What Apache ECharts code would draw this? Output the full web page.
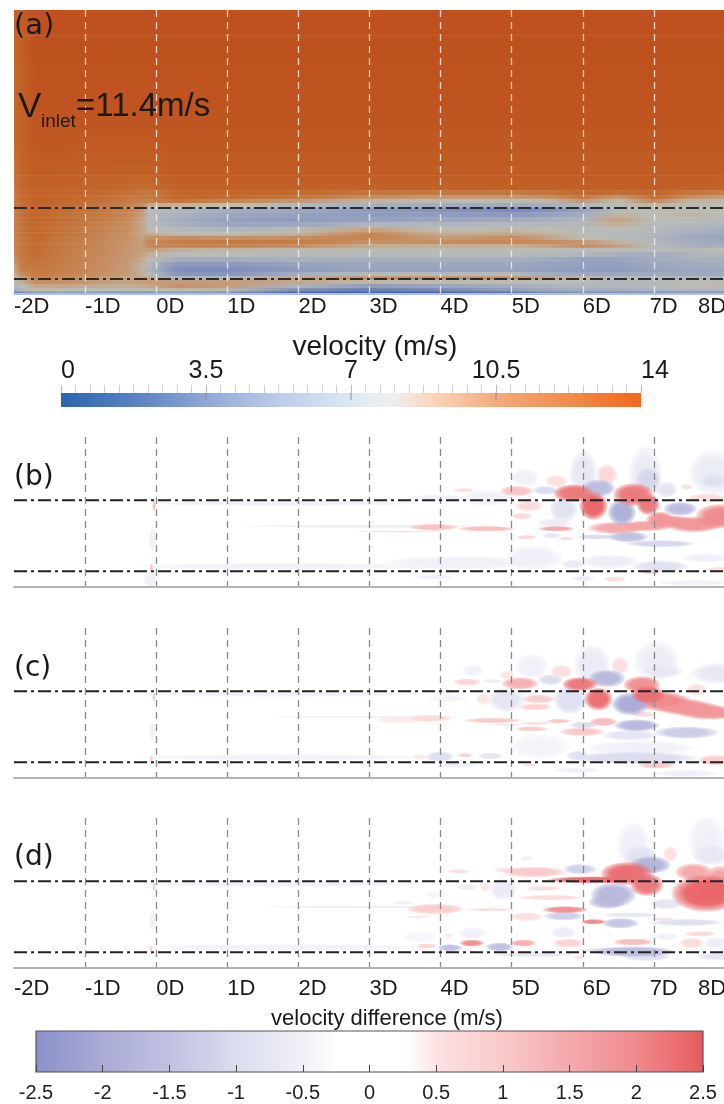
<!DOCTYPE html>
<html><head><meta charset="utf-8">
<style>html,body{margin:0;padding:0;background:#fff}#c{width:724px;height:1104px}</style>
<script src="https://cdn.jsdelivr.net/npm/echarts@6/dist/echarts.min.js"></script>
</head><body><div id="c"></div>
<script>
// Distance downstream in rotor diameters
const xLabelPos=[-2,-1,0,1,2,3,4,5,6,6.94,7.62];
const xLabelText=['-2D','-1D','0D','1D','2D','3D','4D','5D','6D','7D','8D'];
const rotorTipsA=[0.21,1.21];
const rotorTipsDiff=[0.22,1.22];
const velTicks=[0,3.5,7,10.5,14];
const velInnerTicks=[3.5,7,10.5];
const diffTicks=[-2.5,-2,-1.5,-1,-0.5,0,0.5,1,1.5,2,2.5];

// Panel (a): velocity (m/s), one row per height band
const velCols=[-2,-1.9,-1.7,-1.3,-0.8,-0.4,-0.2,-0.1,0.3,1,2,3,4,5,5.5,6,6.5,7,7.5,8];
const velEdges=[3.994,3.64,3.29,2.94,2.59,2.31,2.03,1.81,1.67,1.56,1.46,1.39,1.34,1.28,1.22,1.15,1.08,1.01,0.94,0.87,0.82,0.76,0.70,0.65,0.59,0.52,0.45,0.38,0.31,0.25,0.20,0.14,0.08,0.04,0.015,0];
const velocity=[
[11,11.3,12,12,12,12,12,12,12,12,12,12,12,12,12,12,12,12,12,12],
[11,11.3,11.95,11.95,11.95,11.95,11.95,11.95,11.95,11.95,11.95,11.95,11.95,11.95,11.95,11.95,11.95,11.95,11.95,11.95],
[10.9,11.2,11.9,11.9,11.9,11.9,11.9,11.9,11.9,11.9,11.9,11.9,11.9,11.9,11.9,11.9,11.9,11.9,11.9,11.9],
[10.9,11.2,11.85,11.85,11.85,11.85,11.85,11.85,11.85,11.85,11.85,11.85,11.85,11.85,11.85,11.85,11.85,11.85,11.85,11.85],
[10.8,11.1,11.75,11.75,11.75,11.75,11.75,11.75,11.75,11.75,11.75,11.75,11.75,11.75,11.75,11.75,11.75,11.75,11.75,11.75],
[10.8,11.1,11.65,11.65,11.6,11.6,11.6,11.6,11.65,11.65,11.65,11.65,11.65,11.65,11.65,11.65,11.65,11.65,11.65,11.65],
[10.7,11,11.5,11.5,11.45,11.4,11.4,11.4,11.55,11.55,11.55,11.55,11.55,11.55,11.55,11.55,11.55,11.55,11.55,11.55],
[10.6,10.95,11.4,11.35,11.3,11.25,11.2,11.2,11.45,11.45,11.45,11.45,11.45,11.45,11.45,11.45,11.45,11.45,11.45,11.45],
[10.55,10.9,11.3,11.2,11.1,11,10.95,11,11.35,11.35,11.35,11.35,11.35,11.35,11.35,11.4,11.4,11.4,11.35,11.3],
[10.5,10.9,11.2,11.1,11,10.9,10.8,10.85,11.2,11.2,11.2,11.15,11.15,11.2,11.2,11.3,11.3,11.3,11.2,11.1],
[10.4,10.85,11.15,11,10.9,10.7,10.6,10.5,11,11,10.9,10.6,10.5,10.5,10.6,10.9,10.8,11,10.6,10.2],
[10.35,10.8,11.1,10.95,10.8,10.5,10.4,10.4,11,10.9,10.6,9.6,9.2,9.2,9.5,10.5,9.2,10.8,9.6,9],
[10.3,10.8,11.1,10.9,10.7,10.3,10.1,10.2,10.6,10,9.2,8,7.6,7.6,7.8,9.2,7.6,9.8,8,7.8],
[10.3,10.75,11.05,10.85,10.6,10.1,9.6,8.6,8,7.5,6.8,6.2,6,5.8,6.2,6.6,7.5,8,7.6,7.5],
[10.2,10.7,11.05,10.8,10.5,9.9,9.2,7.2,6.8,6,5.6,5,4.6,4,4.4,5.4,7.2,7.4,7.4,7.4],
[10.2,10.7,11,10.75,10.4,9.8,9,7,6.3,5.6,5.2,5,5,4.8,5.2,6,8,7.2,8,7.2],
[10.1,10.65,11,10.7,10.3,9.7,8.8,7,6,5.3,5,5.2,5.5,5.8,6.2,6.6,8.8,7.2,7.2,7],
[10.1,10.65,10.95,10.65,10.2,9.6,8.7,7,6.2,5.6,5.6,6.5,6.6,6.8,6.9,6.8,8.2,7,6.8,6.5],
[10,10.6,10.95,10.6,10.1,9.5,8.7,7.4,6.9,6.6,7,8.8,7.6,7.8,7.6,7,7.4,6.8,6.4,6],
[10,10.6,10.9,10.55,10,9.4,8.7,8.4,7.6,7.6,8.2,10,8.4,8.6,8.2,7.2,7,6.6,6,5.6],
[9.9,10.5,10.9,10.5,9.95,9.35,8.8,9.4,9.6,9.4,9.6,10,9,9.6,8.8,7.6,7,6.6,5.8,5.4],
[9.9,10.5,10.85,10.45,9.9,9.3,9,10,10.2,10.3,10.3,9.4,9.6,9.8,9.6,9.2,8,6.8,6,5.6],
[9.8,10.45,10.85,10.4,9.85,9.25,9,9.8,10,10,9.6,8.4,8.2,8.2,8.8,9.6,9,7,6.2,6],
[9.8,10.4,10.8,10.35,9.8,9.2,8.9,9,8.2,8,7.6,7.6,7.6,7.6,7.4,7.2,7.2,7.2,7,7.4],
[9.6,10.4,10.8,10.3,9.75,9.15,8.8,8.2,7.2,7.2,7,7,7,7,6.8,6.6,6.2,6,6.4,6.8],
[9.4,10.3,10.7,10.25,9.7,9.1,8.5,7.2,6,6,6.2,6.2,6.2,6.2,5.8,5.4,5.4,6,6.2,6.2],
[9,10.3,10.6,10.2,9.65,9.05,8.1,6.6,4.8,4.8,5.4,5.6,5.6,5.6,5.4,5.2,5.2,5.6,5.8,6],
[8.6,10.2,10.5,10.1,9.6,9,8.1,6.4,4.2,4.2,5,5.4,5.4,5.4,5.2,5,5,5.4,5.6,5.6],
[8.2,9.6,10.4,10,9.5,8.9,8.3,7.2,4.6,4.6,6,7,7,7,6,5.6,5.6,5.8,5.8,5.8],
[7.6,9,10.1,9.8,9.3,8.8,8.8,8.8,6.6,6.6,8.6,9.6,9.6,9.6,8.8,8,7,6.8,6.6,6.6],
[7,8.2,9.6,9.4,9,8.7,8.8,9,9,9,8.6,7.8,7.6,7.6,7.4,7.2,6.6,7,7.2,7.2],
[6.5,7.4,8.6,8.6,8.3,8.2,8.4,8.6,9.4,9,6.4,5,5.5,6,6.4,6.6,6.6,7,7.6,7.8],
[6,6.8,7.6,7.5,7.4,7.4,7.4,7.4,7.6,7,4.2,3.2,4,5,5.8,6,6,6.4,6.6,6.6],
[3.5,4,5,5,4.8,4.6,4.6,4.5,5,4.5,2,1.6,2,3,4,4.4,4.4,4.6,4.8,4.8],
[1.5,1.5,2,2,2,2,2,2,2,2,1,0.8,0.8,1,1.5,1.5,1.5,1.5,1.5,1.5]
];

// Panels (b,c,d): difference features: [x, y, half length, half height, m/s]
const diffB=[
[5.87,1.32,.23,.10,2.2],[6.15,1.14,.16,.16,2.4],[6.34,1.58,.12,.12,.7],[6.71,1.30,.23,.13,2.2],[6.92,1.16,.13,.12,2.2],[7.09,.95,.16,.09,1.8],[6.48,.83,.33,.07,1.5],[6.9,.86,.3,.06,1.6],[7.25,.92,.25,.07,1.7],[7.56,.88,.33,.09,1.8],[7.93,.995,.28,.14,2],[5.07,1.35,.19,.06,1.1],[5.63,1.49,.13,.07,.5],[5.24,1.14,.16,.06,.6],[5.14,.995,.12,.04,.6],[5.63,.82,.21,.03,1.5],[4.32,1.36,.12,.025,.5],[3.90,.84,.28,.04,1.1],[4.65,.82,.33,.03,1.2],[5.21,.70,.12,.025,.7],[5.77,.68,.09,.02,.6],[7.46,1.41,.07,.03,.5],[7.74,1.25,.23,.05,.6],[6.45,.11,.13,.03,.5],[6.95,.21,.12,.025,.8],[7.93,.25,.19,.025,.5],[-.03,1.14,.02,.06,1.2],[-.07,.27,.02,.05,1],[3.43,.78,.5,.012,.5],
[6.22,1.39,.19,.10,-1.6],[6.01,1.60,.16,.26,-.6],[6.55,1.05,.16,.15,-1.9],[7.37,1.10,.19,.08,-1.6],[6.88,1.58,.19,.33,-.5],[6.92,1.51,.14,.14,-1.1],[7.18,1.37,.12,.09,-.7],[5.19,1.535,.16,.10,-.3],[5.47,1.36,.14,.05,-1],[5.73,1.09,.16,.14,-.8],[5.59,.90,.19,.05,-.5],[6.64,.705,.23,.06,-1.5],[6.20,.705,.23,.03,-1],[7.09,.61,.40,.04,-1.1],[7.84,1.605,.28,.26,-.5],[7.84,1.49,.14,.07,-.9],[5.56,.725,.12,.03,-.6],[4.23,.34,.84,.08,-.3],[5.31,.41,.33,.14,-.35],[5.87,.32,.14,.05,-.5],[6.38,.36,.33,.08,-.4],[7.09,.29,.33,.07,-.8],[7.74,.41,.28,.05,-.3],[7.56,.06,.42,.03,-.3],[3.90,.14,.23,.025,-.3],[6.01,.12,.14,.03,-.4],[3.99,1.25,.37,.04,-.3],[4.65,1.25,.28,.09,-.25],[1.79,1.18,1.68,.03,-.3],[2.96,.855,1.5,.02,-.3],[1.79,.29,1.68,.04,-.25],[-.05,.67,.04,.15,-.35],[-.08,.105,.08,.1,-.35]
];
const diffC=[
[5.96,1.32,.20,.08,2.2],[6.22,1.11,.16,.13,2.3],[6.83,1.31,.21,.10,1.9],[6.92,1.17,.19,.10,2.3],[7.1,1.1,.3,.09,2],[7.27,1.03,.4,.08,1.8],[7.5,.98,.38,.08,1.8],[7.79,.92,.37,.08,1.8],[5.12,1.33,.21,.07,1.4],[4.37,1.35,.16,.04,.7],[4.93,1.45,.09,.05,.4],[5.70,1.50,.13,.08,.5],[6.52,1.58,.10,.10,.5],[4.60,1.11,.08,.07,.4],[5.38,1.11,.19,.05,.9],[5.33,1,.19,.04,.8],[3.85,.84,.26,.04,.6],[4.74,.81,.33,.03,1],[5.66,.80,.14,.025,1],[6.29,.79,.16,.05,1.2],[5.28,.69,.19,.03,.9],[5.35,.77,.19,.02,.5],[5.99,.65,.26,.05,1],[6.85,.895,.14,.03,.6],[3.43,.82,.28,.04,.3],[7.60,1.24,.12,.07,.5],[3.71,.30,.09,.025,.4],[4.34,.32,.09,.025,.8],[7.04,.18,.21,.04,1],[7.86,.25,.19,.06,.9],[5.26,.18,.09,.015,.5],[-.03,1.14,.02,.05,.9],[-.07,.27,.02,.04,.8],
[6.34,1.40,.21,.10,-1.7],[6.13,1.59,.21,.23,-.5],[6.67,1.04,.21,.13,-2],[5.82,1.10,.19,.16,-.9],[5.54,1.38,.14,.06,-1],[4.93,1.10,.21,.14,-.7],[4.74,1.36,.12,.025,-.4],[5.28,1.57,.19,.14,-.3],[4.46,1.51,.12,.07,-.25],[6.76,.74,.26,.07,-1.7],[6.01,.745,.16,.04,-1],[7.46,.64,.37,.07,-1.3],[6.67,.60,.33,.06,-.7],[7.04,1.64,.26,.23,-.4],[7.13,1.50,.23,.07,-.6],[7.93,1.47,.33,.12,-.6],[7.44,1.13,.07,.025,-.5],[3.99,.30,.16,.06,-.9],[4.70,.31,.14,.04,-.7],[5.92,.32,.12,.05,-.8],[5.40,.44,.33,.14,-.2],[6.71,.28,.75,.07,-1],[6.81,.42,.61,.09,-.3],[5.92,.11,.28,.03,-.3],[7.46,.065,.37,.04,-.3],[4.23,.18,.23,.03,-.4],[4.09,1.12,.23,.04,-.2],[4.09,1.21,.12,.03,-.4],[4.93,.75,.19,.02,-.4],[1.79,1.18,1.68,.03,-.28],[3,.86,1.2,.015,-.3],[1.79,.29,1.68,.035,-.25],[-.05,.67,.04,.12,-.3]
];
const diffD=[
[6.62,1.33,.30,.13,2.3],[6.15,1.24,.52,.04,2.3],[6.90,1.17,.19,.13,2.2],[7.23,1.60,.08,.09,.5],[7.74,1.05,.40,.21,2.4],[7.56,1.35,.21,.10,1.5],[7.93,1.21,.19,.19,1.6],[5.31,1.35,.37,.06,1],[4.93,1.38,.16,.03,.4],[4.25,1.36,.14,.025,.5],[5.45,1.12,.21,.03,.5],[5.54,.99,.37,.03,.6],[4.63,1.14,.06,.05,.4],[3.92,.83,.33,.06,.9],[4.70,.82,.28,.02,.5],[5.75,.82,.26,.04,1.9],[5.21,.72,.19,.05,.5],[6.15,.65,.14,.03,2],[7.13,.69,.14,.02,.5],[4.44,.35,.14,.04,1.9],[5.16,.35,.15,.04,1.4],[3.80,.31,.12,.03,.7],[5.80,.35,.18,.05,.8],[6.71,.365,.23,.04,1.2],[4.11,.46,.05,.02,.4],[7.65,.48,.19,.03,.6],[7.53,.35,.14,.06,.6],[5.95,.15,.07,.02,.5],[3.69,.72,.16,.015,.3],[-.03,1.14,.02,.05,.9],[-.07,.27,.02,.04,.8],
[5.96,1.39,.19,.06,-1.2],[6.95,1.45,.23,.10,-1.8],[6.71,1.73,.19,.26,-.35],[6.81,1.57,.19,.12,-.8],[6.43,1.03,.26,.14,-1.7],[6.34,.93,.21,.08,-1.5],[7.18,.90,.19,.06,-.7],[5.73,.73,.23,.05,-1.2],[6.53,.63,.21,.06,-1.4],[7.46,.64,.42,.04,-.9],[6.67,.745,.33,.03,-.6],[4.13,.285,.14,.04,-1.5],[4.83,.295,.16,.05,-1.5],[5.31,.19,.47,.03,-.6],[6.71,.23,.47,.06,-1.6],[6.90,.16,.28,.05,-.9],[6.34,.25,.33,.03,-.6],[7.74,1.80,.21,.28,-.3],[7.81,1.59,.21,.12,-.6],[4.88,1.10,.16,.12,-.5],[4.37,1.14,.12,.04,-.4],[5.21,1.54,.07,.03,-.25],[5.73,.50,.14,.07,-.4],[4.44,.49,.16,.07,-.25],[3.71,.44,.19,.07,-.15],[7.18,.44,.14,.04,-.3],[7.88,.35,.14,.07,-.4],[7.88,.16,.23,.04,-.7],[3.48,.92,.12,.025,-.3],[3.90,1.03,.09,.04,-.2],[1.79,1.18,1.68,.03,-.28],[2.9,.86,1.2,.015,-.3],[1.79,.29,1.68,.035,-.25],[-.05,.67,.04,.12,-.3]
];

// Colour scales (styles)
const fieldRamp=[[0,'#2452b0'],[2,'#4a68b4'],[4,'#7b8abb'],[5.5,'#9aa5bf'],[6.5,'#aeb5bd'],[7.5,'#bcbdb4'],[8.5,'#c4a98f'],[9.5,'#c68e63'],[10.5,'#c47840'],[11,'#c2652a'],[11.5,'#c05b23'],[12,'#be511f']];
const diffRamp=[[-2.5,'#8b90c8'],[-2,'#a9abd6'],[-1.5,'#c0c1e1'],[-1,'#dbdcee'],[-.5,'#ebebf6'],[-.25,'#f1f1f9'],[-.1,'#f8f8fc'],[0,'#ffffff'],[.1,'#fff6f6'],[.25,'#fdebeb'],[.5,'#fcdfe0'],[1,'#f9c9ca'],[1.5,'#f4a9ab'],[2,'#ef8a8d'],[2.5,'#e85a5e']];
const velBar=[[0,'#2866b0'],[1.75,'#5a80c0'],[3.5,'#90a6d6'],[5.25,'#bccce8'],[7,'#dce8f4'],[8,'#efefef'],[9,'#fad4bc'],[10.5,'#f4aa7c'],[12.25,'#f08c4c'],[14,'#f0681c']];
const diffBar=[[-2.5,'#8b90c8'],[-2,'#a9abd6'],[-1.5,'#c0c1e1'],[-1,'#dbdcee'],[-.5,'#f0f0f8'],[-.24,'#ffffff'],[.27,'#ffffff'],[.5,'#fde2e3'],[1,'#f9c9ca'],[1.5,'#f4a9ab'],[2,'#ef8a8d'],[2.5,'#e85a5e']];

function rampColor(ramp,v){
  if(v<=ramp[0][0])return ramp[0][1];
  for(let i=1;i<ramp.length;i++){
    if(v<=ramp[i][0]){const t=(v-ramp[i-1][0])/(ramp[i][0]-ramp[i-1][0]);return echarts.color.lerp(t,[ramp[i-1][1],ramp[i][1]]);}
  }
  return ramp[ramp.length-1][1];
}
const FONT='"Liberation Sans",Arial,sans-serif';
const LEFT=14,W=711;
const diffPanels=[{top:437,data:diffB},{top:628,data:diffC},{top:818,data:diffD}];

const grid=[{left:LEFT,top:10,width:W,height:284},{left:61,top:393,width:580,height:14}];
diffPanels.forEach(p=>grid.push({left:LEFT,top:p.top,width:W,height:150}));
grid.push({left:36,top:1031,width:667,height:41});
grid.forEach(g=>{g.outerBoundsMode='none';g.containLabel=false;});

function spatialAxis(gridIndex,color,lineColor,showLabels,margin,zv){
  return {type:'value',gridIndex,min:-2,max:8,interval:1,position:'bottom',z:zv,
    axisLine:{show:!!lineColor,onZero:false,lineStyle:{color:lineColor||'#000',width:2}},
    axisTick:{show:false},
    splitLine:{show:true,showMinLine:false,showMaxLine:false,lineStyle:{color,width:1.3,type:[7,5]}},
    axisLabel:{show:showLabels,customValues:xLabelPos,align:'left',margin,fontSize:22,color:'#1a1a1a',fontFamily:FONT,hideOverlap:false,
      formatter:v=>{const i=xLabelPos.indexOf(v);return i<0?'':xLabelText[i];}}};
}
const xAxis=[
  spatialAxis(0,'rgba(245,240,235,.85)','#a9c1ea',true,2,10),
  {type:'value',gridIndex:1,min:0,max:14,interval:3.5,position:'top',z:10,
   axisLine:{show:false,onZero:false},axisTick:{show:true,length:8,lineStyle:{color:'#bdbdbd',width:1}},
   minorTick:{show:true,splitNumber:10,length:8,lineStyle:{color:'#cfcfcf',width:1}},splitLine:{show:false},
   axisLabel:{margin:9,fontSize:25,color:'#1a1a1a',fontFamily:FONT,alignMinLabel:'left',alignMaxLabel:'left',hideOverlap:false,formatter:v=>String(v),customValues:velTicks}},
  spatialAxis(2,'#8a8a8a','#b4b4b4',false,0,10),
  spatialAxis(3,'#8a8a8a','#b4b4b4',false,0,10),
  spatialAxis(4,'#8a8a8a','#b4b4b4',true,10,10),
  {type:'value',gridIndex:5,min:-2.5,max:2.5,interval:.5,position:'bottom',z:10,
   axisLine:{show:false,onZero:false},axisTick:{show:true,inside:true,length:7,lineStyle:{color:'#444',width:1}},splitLine:{show:false},
   axisLabel:{margin:11,fontSize:20,color:'#222',fontFamily:FONT,hideOverlap:false,customValues:diffTicks,formatter:v=>String(v)}}
];
const yAxis=[
  {type:'value',gridIndex:0,min:0,max:3.994,show:false},
  {type:'value',gridIndex:1,min:0,max:1,show:false},
  {type:'value',gridIndex:2,min:0,max:2.11,show:false},
  {type:'value',gridIndex:3,min:0,max:2.11,show:false},
  {type:'value',gridIndex:4,min:0,max:2.11,show:false},
  {type:'value',gridIndex:5,min:0,max:1,show:false}
];

const series=[];
// Panel (a) field
series.push({type:'custom',name:'velocity',xAxisIndex:0,yAxisIndex:0,silent:true,clip:true,
  encode:{x:0,y:1},
  data:velocity.map((row,j)=>[velCols[0],velEdges[j+1],j]),
  renderItem(params,api){
    const j=api.value(2);
    const a=api.coord([-2,velEdges[j]]),b=api.coord([8,velEdges[j+1]]);
    const stops=velCols.map((x,i)=>({offset:(x+2)/10,color:rampColor(fieldRamp,velocity[j][i])}));
    return {type:'rect',shape:{x:a[0],y:a[1],width:b[0]-a[0],height:b[1]-a[1]+0.6},
      style:{fill:{type:'linear',x:0,y:0,x2:1,y2:0,global:false,colorStops:stops}}};
  }});
// Colour bars
function barSeries(idx,ramp,lo,hi,border){
  return {type:'custom',xAxisIndex:idx,yAxisIndex:idx,silent:true,encode:{x:0,y:1},data:[[lo,0]],
    renderItem(params,api){
      const a=api.coord([lo,1]),b=api.coord([hi,0]);
      return {type:'rect',shape:{x:a[0],y:a[1],width:b[0]-a[0],height:b[1]-a[1]},
        style:{stroke:border||null,lineWidth:border?1.2:0,
          fill:{type:'linear',x:0,y:0,x2:1,y2:0,colorStops:ramp.map(s=>({offset:(s[0]-lo)/(hi-lo),color:s[1]}))}}};
    }};
}
series.push(barSeries(1,velBar,0,14));
series.push({type:'custom',xAxisIndex:1,yAxisIndex:1,silent:true,z:5,encode:{x:0},data:velInnerTicks.map(v=>[v]),
  renderItem(params,api){const v=api.value(0);const a=api.coord([v,1]),b=api.coord([v,.5]);
    return {type:'line',shape:{x1:a[0],y1:a[1],x2:b[0],y2:b[1]},style:{stroke:'#8a8f98',lineWidth:1}};}});
series.push(barSeries(5,diffBar,-2.5,2.5,'#555'));
// Difference panels
diffPanels.forEach((p,k)=>{
  const idx=k+2;
  const sorted=p.data.slice().sort((m,n)=>Math.abs(m[4])-Math.abs(n[4]));
  series.push({type:'custom',xAxisIndex:idx,yAxisIndex:idx,silent:true,clip:true,encode:{x:0,y:1},data:sorted,
    renderItem(params,api){
      const c=api.coord([api.value(0),api.value(1)]);
      const s=api.size([api.value(2),api.value(3)]);
      const col=echarts.color.parse(rampColor(diffRamp,api.value(4)));
      const rgba=a=>`rgba(${col[0]},${col[1]},${col[2]},${a})`;
      return {type:'circle',x:c[0],y:c[1],scaleX:s[0]*1.28/10,scaleY:s[1]*1.28/10,shape:{cx:0,cy:0,r:10},
        style:{fill:{type:'radial',x:.5,y:.5,r:.5,colorStops:[{offset:0,color:rgba(1)},{offset:.6,color:rgba(.95)},{offset:.85,color:rgba(.5)},{offset:1,color:rgba(0)}]}}};
    }});
});
// Rotor-tip lines
function tipLine(idx,y,color){
  return {type:'line',xAxisIndex:idx,yAxisIndex:idx,z:12,silent:true,symbol:'none',animation:false,
    data:[[-2,y],[8,y]],lineStyle:{color,width:2,type:[13,4,3,4]}};
}
rotorTipsA.forEach(y=>series.push(tipLine(0,y,'#2b2b2b')));
[2,3,4].forEach(i=>rotorTipsDiff.forEach(y=>series.push(tipLine(i,y,'#222'))));

const txt=(x,y,text,size,family,align,fill)=>({type:'text',x,y,z:100,silent:true,
  style:{text,fontSize:size,fontFamily:family||FONT,fill:fill||'#1a1a1a',textAlign:align||'left',textVerticalAlign:'middle'}});
const graphic=[
  txt(14,26,'(a)',29,'"DejaVu Sans"'),
  txt(18,107,'V',35),
  txt(41,122,'inlet',19),
  txt(76,107,'=11.4m/s',33),
  txt(375,347,'velocity (m/s)',28,FONT,'center'),
  txt(387,1019,'velocity difference (m/s)',22,FONT,'center'),
  txt(14,478,'(b)',28,'"DejaVu Sans"'),
  txt(14,669,'(c)',28,'"DejaVu Sans"'),
  txt(14,858,'(d)',28,'"DejaVu Sans"')
];

const chart=echarts.init(document.getElementById('c'),null,{renderer:'canvas'});
chart.setOption({animation:false,backgroundColor:'#fff',grid,xAxis,yAxis,series,graphic});
</script></body></html>
